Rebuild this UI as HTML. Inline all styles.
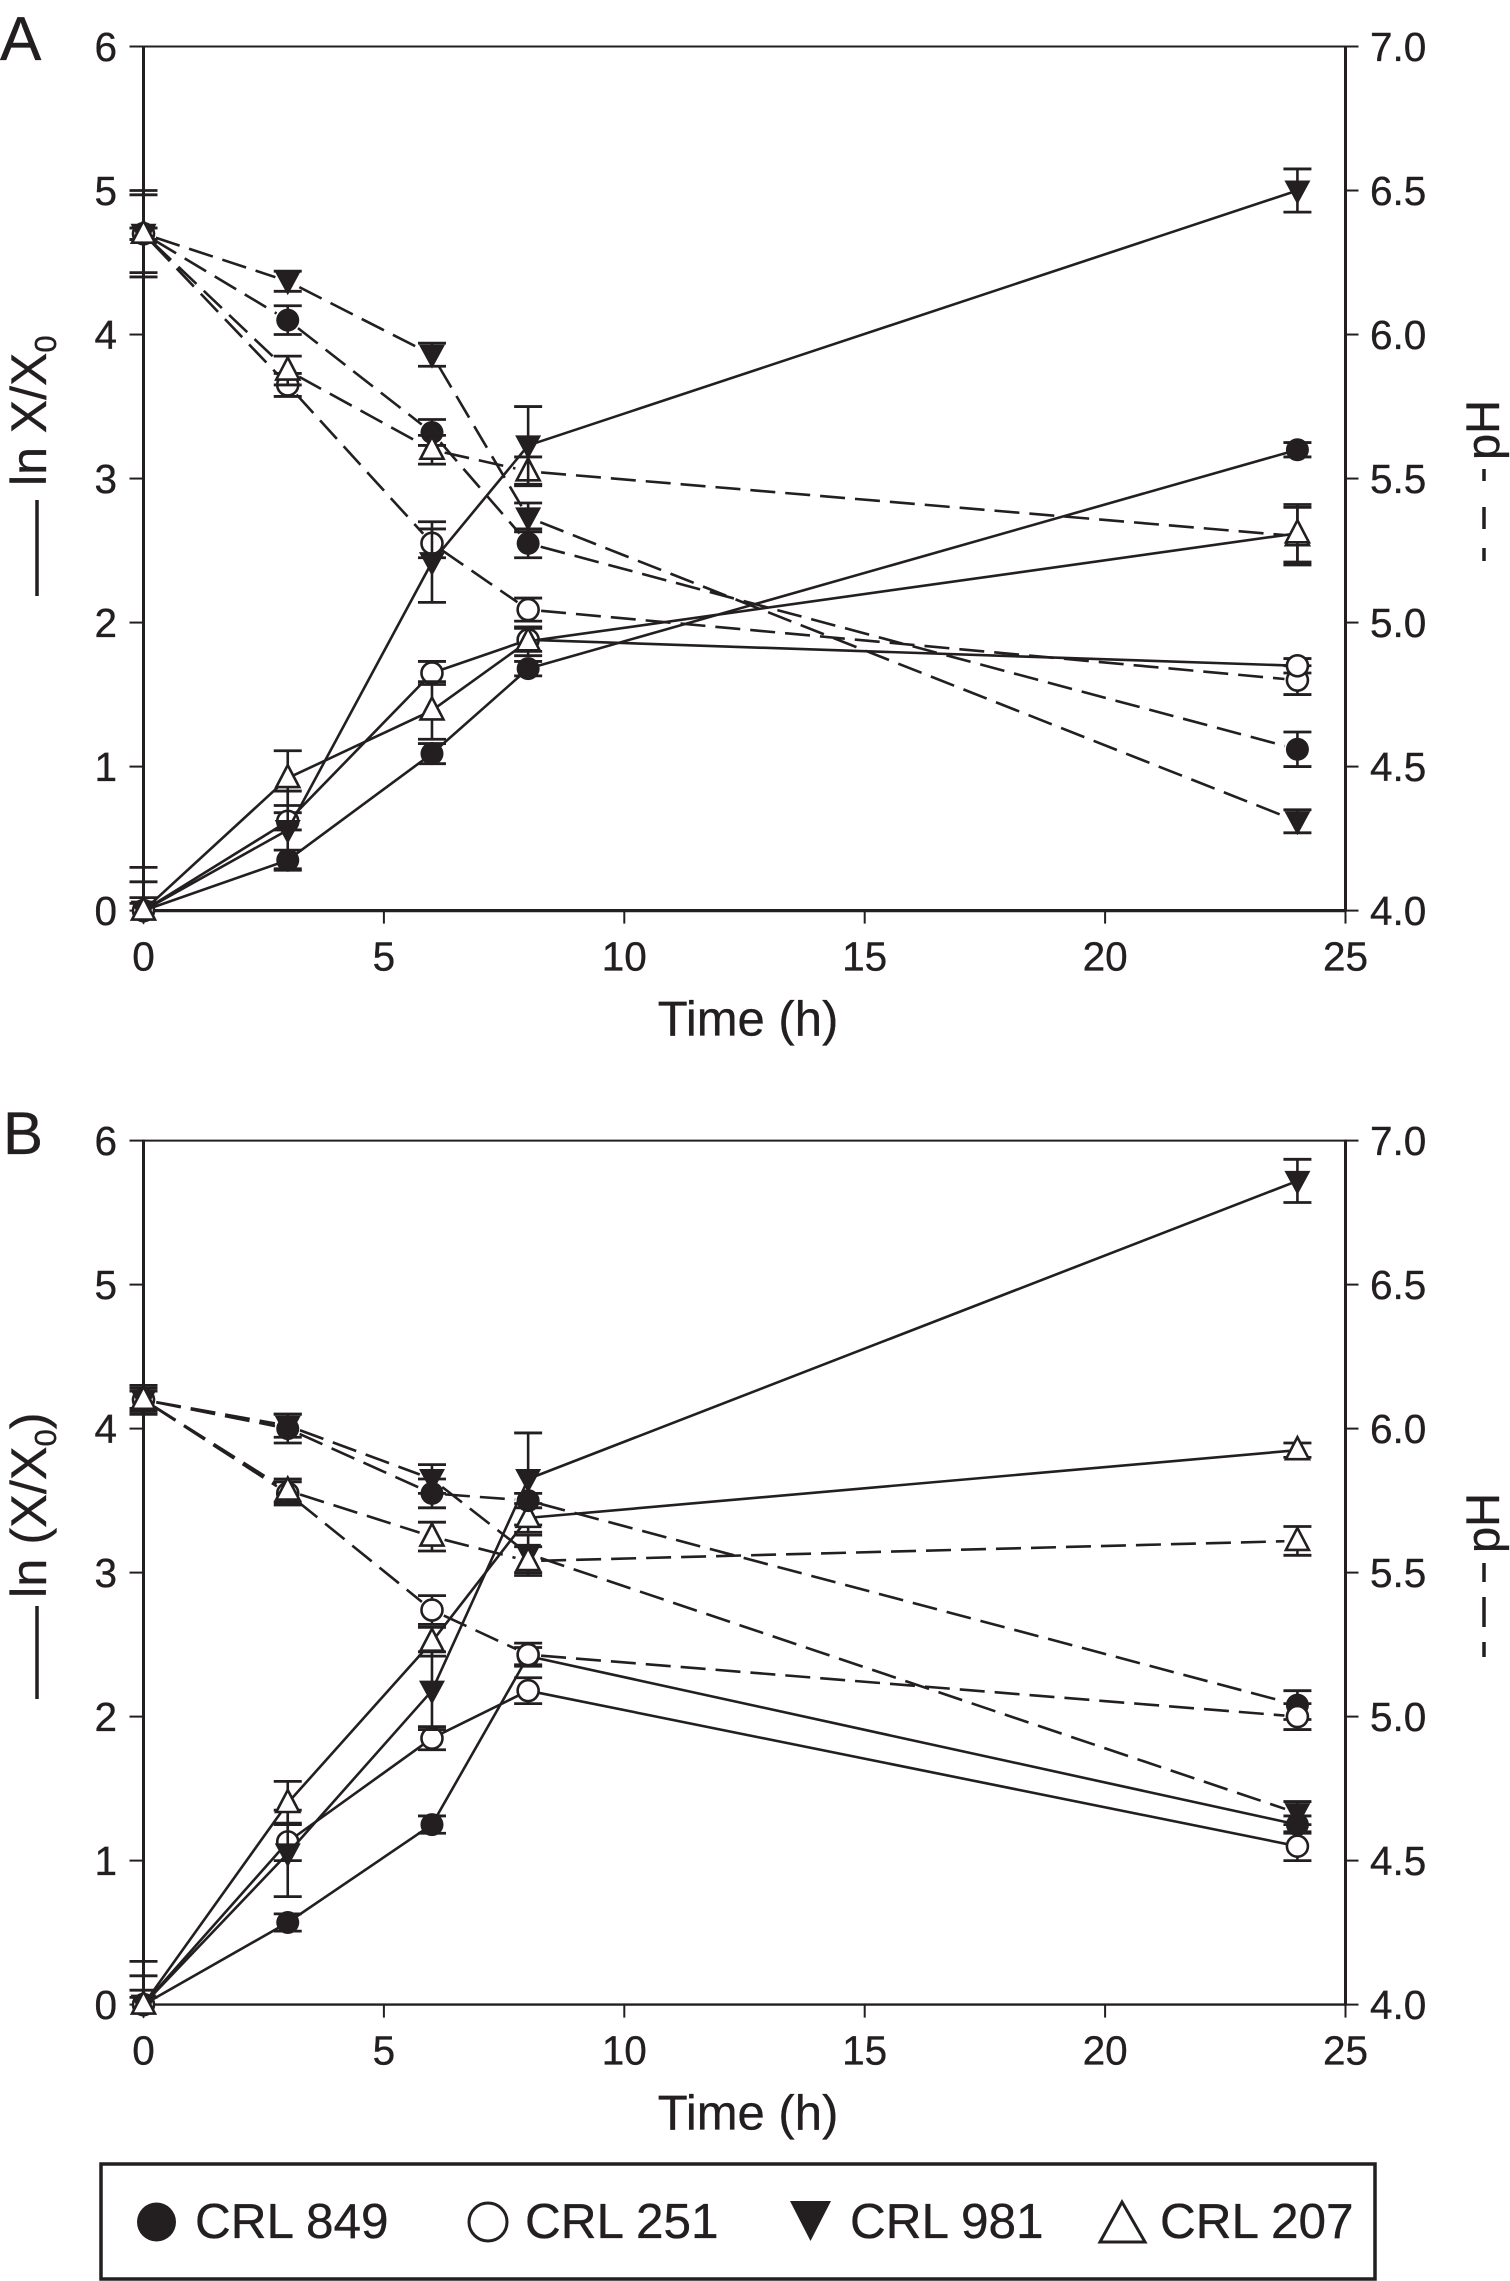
<!DOCTYPE html>
<html lang="en">
<head>
<meta charset="utf-8">
<title>Growth and pH over time</title>
<style>
  html, body { margin: 0; padding: 0; background: #fff; }
  svg { display: block; }
  text { font-family: "Liberation Sans", Arial, sans-serif; fill: #231f20; stroke: #231f20; stroke-width: 0.35; }
</style>
</head>
<body>
<svg id="chart" xmlns="http://www.w3.org/2000/svg" width="1510" height="2281" viewBox="0 0 1510 2281">
  <rect x="0" y="0" width="1510" height="2281" fill="#fff"/>
  <g id="panelA"></g>
  <g id="panelB"></g>

  <text x="0" y="60" font-size="62">A</text>
  <text x="3" y="1154" font-size="60">B</text>

  <g>
    <line x1="37" y1="500" x2="37" y2="596" stroke="#231f20" stroke-width="3.5"/>
    <text transform="translate(46,486) rotate(-90)" font-size="50">ln X/X<tspan font-size="31" dy="10">0</tspan></text>
  </g>
  <g>
    <text transform="translate(1499,460) rotate(-90)" font-size="47">pH</text>
    <line x1="1484" y1="469" x2="1484" y2="481" stroke="#231f20" stroke-width="3.5"/>
    <line x1="1484" y1="507" x2="1484" y2="529" stroke="#231f20" stroke-width="3.5"/>
    <line x1="1484" y1="548" x2="1484" y2="561" stroke="#231f20" stroke-width="3.5"/>
  </g>

  <g>
    <line x1="37" y1="1606" x2="37" y2="1699" stroke="#231f20" stroke-width="3.5"/>
    <text transform="translate(46,1598) rotate(-90)" font-size="50.5">ln (X/X<tspan font-size="31" dy="10">0</tspan><tspan dy="-10">)</tspan></text>
  </g>
  <g>
    <text transform="translate(1499,1553) rotate(-90)" font-size="47">pH</text>
    <line x1="1484" y1="1563" x2="1484" y2="1582" stroke="#231f20" stroke-width="3.5"/>
    <line x1="1484" y1="1597" x2="1484" y2="1627" stroke="#231f20" stroke-width="3.5"/>
    <line x1="1484" y1="1642" x2="1484" y2="1657" stroke="#231f20" stroke-width="3.5"/>
  </g>

  <g>
    <rect x="101" y="2164" width="1274" height="115" fill="#fff" stroke="#231f20" stroke-width="3.5"/>
    <g>
      <ellipse cx="156.5" cy="2222" rx="19.5" ry="19.5" fill="#231f20"/>
      <text x="195" y="2238" font-size="49.5">CRL 849</text>
    </g>
    <g>
      <circle cx="488" cy="2222" r="19" fill="#fff" stroke="#231f20" stroke-width="3"/>
      <text x="525" y="2238" font-size="49.5">CRL 251</text>
    </g>
    <g>
      <polygon points="790,2201 831,2201 810.5,2241" fill="#231f20"/>
      <text x="850" y="2238" font-size="49.5">CRL 981</text>
    </g>
    <g>
      <polygon points="1122,2202 1145,2242 1100,2242" fill="#fff" stroke="#231f20" stroke-width="3"/>
      <text x="1160" y="2238" font-size="49.5">CRL 207</text>
    </g>
  </g>
</svg>

<script>
// ---------- Shared axes ----------
const times = [0, 3, 6, 8, 24];
const xTickLabels = [0, 5, 10, 15, 20, 25];
const leftTickLabels = [0, 1, 2, 3, 4, 5, 6];
const rightTickLabels = ['4.0', '4.5', '5.0', '5.5', '6.0', '6.5', '7.0'];

// ---------- Panel A: ln X/X0 (solid) ----------
const aGrowth849 = [0, 0.35, 1.09, 1.68, 3.2];
const aGrowth251 = [0, 0.62, 1.65, 1.88, 1.7];
const aGrowth981 = [0, 0.56, 2.42, 3.23, 5.0];
const aGrowth207 = [0, 0.92, 1.39, 1.87, 2.62];
const aGrowthErr849 = [0.05, 0.07, 0.07, 0.05, 0.05];
const aGrowthErr251 = [0.09, 0.06, 0.08, 0.08, 0.05];
const aGrowthErr981 = [0.2, 0.27, 0.28, 0.27, 0.15];
const aGrowthErr207 = [0.3, 0.19, 0.2, 0.1, 0.2];

// ---------- Panel A: pH (dashed) ----------
const aPh849 = [6.35, 6.05, 5.66, 5.275, 4.56];
const aPh251 = [6.35, 5.825, 5.275, 5.045, 4.8];
const aPh981 = [6.35, 6.185, 5.93, 5.365, 4.31];
const aPh207 = [6.35, 5.875, 5.6, 5.525, 5.3];
const aPhErr849 = [0.02, 0.05, 0.045, 0.05, 0.06];
const aPhErr251 = [0.02, 0.04, 0.05, 0.04, 0.05];
const aPhErr981 = [0.15, 0.035, 0.04, 0.05, 0.04];
const aPhErr207 = [0.135, 0.05, 0.05, 0.05, 0.1];

// ---------- Panel B: ln (X/X0) (solid) ----------
const bGrowth849 = [0, 0.57, 1.25, 2.42, 1.25];
const bGrowth251 = [0, 1.13, 1.85, 2.18, 1.1];
const bGrowth981 = [0, 1.05, 2.18, 3.65, 5.72];
const bGrowth207 = [0, 1.4, 2.52, 3.38, 3.85];
const bGrowthErr849 = [0.05, 0.06, 0.06, 0.06, 0.06];
const bGrowthErr251 = [0.1, 0.13, 0.08, 0.09, 0.1];
const bGrowthErr981 = [0.2, 0.3, 0.27, 0.32, 0.15];
const bGrowthErr207 = [0.3, 0.15, 0.1, 0.1, 0.05];

// ---------- Panel B: pH (dashed) ----------
const bPh849 = [6.1, 6.0, 5.775, 5.75, 5.04];
const bPh251 = [6.1, 5.775, 5.37, 5.215, 5.0];
const bPh981 = [6.1, 6.01, 5.825, 5.565, 4.665];
const bPh207 = [6.1, 5.785, 5.625, 5.54, 5.61];
const bPhErr849 = [0.05, 0.05, 0.05, 0.025, 0.05];
const bPhErr251 = [0.03, 0.04, 0.05, 0.04, 0.045];
const bPhErr981 = [0.04, 0.04, 0.05, 0.065, 0.04];
const bPhErr207 = [0.05, 0.04, 0.05, 0.05, 0.05];

const INK = '#231f20';
const SVG_NS = 'http://www.w3.org/2000/svg';

function make(parent, tag, attrs, text) {
  const el = document.createElementNS(SVG_NS, tag);
  for (const k in attrs) el.setAttribute(k, attrs[k]);
  if (text !== undefined) el.textContent = text;
  parent.appendChild(el);
  return el;
}

function drawPanel(root, top, bottom, bottomWidth, series) {
  const left = 143.5, right = 1345.5;
  const x = t => left + (t / 25) * (right - left);
  const yL = v => bottom - (v / 6) * (bottom - top);
  const yR = p => bottom - ((p - 4) / 3) * (bottom - top);

  // Frame
  const frameTop = make(root, 'line', {x1: left, y1: top, x2: right, y2: top, stroke: INK, 'stroke-width': 2});
  
  
  const frameBottom = make(root, 'line', {x1: left, y1: bottom, x2: right, y2: bottom, stroke: INK, 'stroke-width': bottomWidth});
  
  
  const frameLeft = make(root, 'line', {x1: left, y1: top - 1, x2: left, y2: bottom + 1, stroke: INK, 'stroke-width': 3});
  
  
  const frameRight = make(root, 'line', {x1: right, y1: top - 1, x2: right, y2: bottom + 1, stroke: INK, 'stroke-width': 3});
  
  

  // Ticks and labels
  xTickLabels.forEach(v => {
    const tick = make(root, 'line', {x1: x(v), y1: bottom, x2: x(v), y2: bottom + 13, stroke: INK, 'stroke-width': 2});
    
    
    const label = make(root, 'text', {x: x(v), y: bottom + 60, 'font-size': 40.5, 'text-anchor': 'middle'}, v);
    
    
  });
  leftTickLabels.forEach(v => {
    const tick = make(root, 'line', {x1: left - 14, y1: yL(v), x2: left, y2: yL(v), stroke: INK, 'stroke-width': 2});
    
    
    const label = make(root, 'text', {x: 117, y: yL(v) + 14.5, 'font-size': 40.5, 'text-anchor': 'end'}, v);
    
    
  });
  rightTickLabels.forEach(v => {
    const p = parseFloat(v);
    const tick = make(root, 'line', {x1: right, y1: yR(p), x2: right + 13, y2: yR(p), stroke: INK, 'stroke-width': 2});
    
    
    const label = make(root, 'text', {x: 1370, y: yR(p) + 14.5, 'font-size': 40.5}, v);
    
    
  });

  const axisTitle = make(root, 'text', {x: 748, y: bottom + 125, 'font-size': 49, 'text-anchor': 'middle'}, 'Time (h)');
  
  

  // Series
  const dashInset = 13;
  series.forEach(s => {
    const scale = s.kind === 'ph' ? yR : yL;
    const group = make(root, 'g', {});
    
    

    // Line segments: dashed (pH) segments stop short of their markers and restart the dash pattern
    for (let i = 0; i < times.length - 1; i++) {
      const x0 = x(times[i]), y0 = scale(s.values[i]);
      const x1 = x(times[i + 1]), y1 = scale(s.values[i + 1]);
      const len = Math.hypot(x1 - x0, y1 - y0) || 1;
      const inset = s.kind === 'ph' ? dashInset : 0;
      const ux = (x1 - x0) / len, uy = (y1 - y0) / len;
      const attrs = {x1: x0 + ux * inset, y1: y0 + uy * inset, x2: x1 - ux * inset, y2: y1 - uy * inset, stroke: INK, 'stroke-width': 2.6};
      if (s.kind === 'ph') attrs['stroke-dasharray'] = '25 10';
      const seg = make(group, 'line', attrs);
      
      
    }

    times.forEach((t, i) => {
      const cx = x(t), cy = scale(s.values[i]);
      const v = s.values[i], e = s.errors[i];
      const hi = scale(v + e);
      const clipped = s.kind === 'growth' && v - e <= 0;
      const lo = clipped ? cy : scale(v - e);
      const stem = make(group, 'line', {x1: cx, y1: hi, x2: cx, y2: lo, stroke: INK, 'stroke-width': 2.6});
      
      
      const capHi = make(group, 'line', {x1: cx - 14, y1: hi, x2: cx + 14, y2: hi, stroke: INK, 'stroke-width': 2.8});
      
      
      if (!clipped) {
        const capLo = make(group, 'line', {x1: cx - 14, y1: lo, x2: cx + 14, y2: lo, stroke: INK, 'stroke-width': 2.8});
        
        
      }

      let m;
      if (s.marker === 'filled-circle') {
        m = make(group, 'circle', {cx: cx, cy: cy, r: 11.5, fill: INK});
      } else if (s.marker === 'open-circle') {
        m = make(group, 'circle', {cx: cx, cy: cy, r: 10.5, fill: '#fff', stroke: INK, 'stroke-width': 2.6});
      } else if (s.marker === 'filled-triangle') {
        m = make(group, 'polygon', {points: (cx - 13) + ',' + (cy - 10) + ' ' + (cx + 13) + ',' + (cy - 10) + ' ' + cx + ',' + (cy + 14), fill: INK});
      } else {
        m = make(group, 'polygon', {points: cx + ',' + (cy - 13) + ' ' + (cx + 11.5) + ',' + (cy + 9) + ' ' + (cx - 11.5) + ',' + (cy + 9), fill: '#fff', stroke: INK, 'stroke-width': 2.6});
      }
      
      
    });
  });
}

drawPanel(document.getElementById('panelA'), 46.5, 910.6, 3.2, [
  {name: 'ph-crl-849', kind: 'ph', marker: 'filled-circle', values: aPh849, errors: aPhErr849},
  {name: 'ph-crl-251', kind: 'ph', marker: 'open-circle', values: aPh251, errors: aPhErr251},
  {name: 'ph-crl-981', kind: 'ph', marker: 'filled-triangle', values: aPh981, errors: aPhErr981},
  {name: 'ph-crl-207', kind: 'ph', marker: 'open-triangle', values: aPh207, errors: aPhErr207},
  {name: 'growth-crl-849', kind: 'growth', marker: 'filled-circle', values: aGrowth849, errors: aGrowthErr849},
  {name: 'growth-crl-251', kind: 'growth', marker: 'open-circle', values: aGrowth251, errors: aGrowthErr251},
  {name: 'growth-crl-981', kind: 'growth', marker: 'filled-triangle', values: aGrowth981, errors: aGrowthErr981},
  {name: 'growth-crl-207', kind: 'growth', marker: 'open-triangle', values: aGrowth207, errors: aGrowthErr207}
]);

drawPanel(document.getElementById('panelB'), 1140.6, 2004.6, 2.4, [
  {name: 'growth-crl-849', kind: 'growth', marker: 'filled-circle', values: bGrowth849, errors: bGrowthErr849},
  {name: 'growth-crl-251', kind: 'growth', marker: 'open-circle', values: bGrowth251, errors: bGrowthErr251},
  {name: 'growth-crl-981', kind: 'growth', marker: 'filled-triangle', values: bGrowth981, errors: bGrowthErr981},
  {name: 'growth-crl-207', kind: 'growth', marker: 'open-triangle', values: bGrowth207, errors: bGrowthErr207},
  {name: 'ph-crl-849', kind: 'ph', marker: 'filled-circle', values: bPh849, errors: bPhErr849},
  {name: 'ph-crl-251', kind: 'ph', marker: 'open-circle', values: bPh251, errors: bPhErr251},
  {name: 'ph-crl-981', kind: 'ph', marker: 'filled-triangle', values: bPh981, errors: bPhErr981},
  {name: 'ph-crl-207', kind: 'ph', marker: 'open-triangle', values: bPh207, errors: bPhErr207}
]);
</script>
</body>
</html>
